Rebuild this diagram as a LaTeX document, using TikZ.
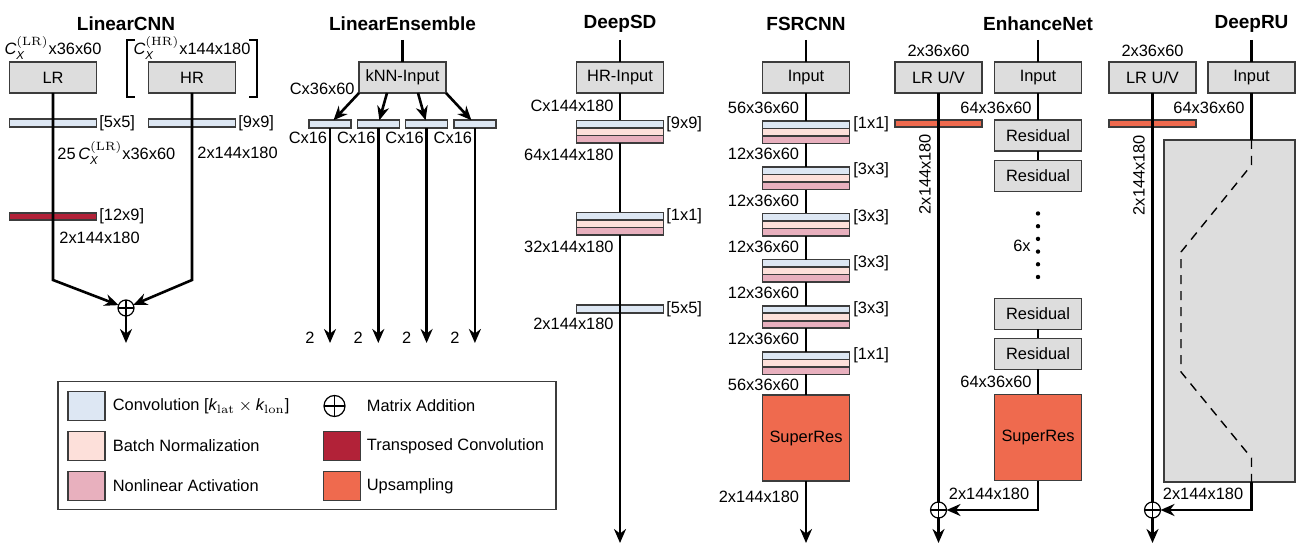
\documentclass[tikz,border=0pt]{standalone}
\usepackage{amsmath}
\usepackage[no-math]{fontspec}
\setmainfont{Liberation Sans}
\usetikzlibrary{arrows.meta,positioning}

\definecolor{boxgray}{RGB}{221,221,221}
\definecolor{boxline}{RGB}{60,60,60}
\definecolor{convblue}{RGB}{221,231,243}
\definecolor{bnpink}{RGB}{253,224,218}
\definecolor{actpink}{RGB}{232,176,190}
\definecolor{tconvred}{RGB}{178,34,56}
\definecolor{upsorange}{RGB}{239,106,78}

\begin{document}
\begin{tikzpicture}[x=0.5pt, y=-0.5pt,
  lbl/.style={font=\fontsize{8.2}{9.8}\selectfont, inner sep=0pt},
  title/.style={font=\fontsize{9.5}{11}\selectfont\bfseries, inner sep=0pt},
  layer/.style={draw=boxline, fill=boxgray, line width=0.8pt, minimum width=43.5pt,
    minimum height=15.5pt, inner sep=0pt, outer sep=0pt, font=\fontsize{8.2}{9.8}\selectfont},
  bar/.style={draw=boxline, line width=0.8pt, minimum width=43.5pt, minimum height=3.75pt,
    inner sep=0pt, outer sep=0pt},
  conv/.style={bar, fill=convblue},
  bnorm/.style={bar, fill=bnpink},
  act/.style={bar, fill=actpink},
  tconv/.style={bar, fill=tconvred},
  upsbar/.style={bar, fill=upsorange},
  swatch/.style={draw=boxline, line width=0.8pt, minimum width=18.5pt, minimum height=14.5pt,
    inner sep=0pt},
  flow/.style={line width=1.3pt},
  arr/.style={flow, -{Stealth[length=7pt, width=6pt]}},
  addop/.style={circle, draw, fill=white, line width=0.6pt, minimum size=8pt, inner sep=0pt,
    outer sep=0pt, path picture={\draw[line width=0.6pt]
      (path picture bounding box.north) -- (path picture bounding box.south)
      (path picture bounding box.west) -- (path picture bounding box.east);}},
  ]
\useasboundingbox (0,0) rectangle (1299,549);

% LinearCNN
\node[title] (lcnn-title) at (126,24) {LinearCNN};
\node[lbl] (lr-dim) at (53,48) {$\textit{C}_{\textit{X}}^{(\mathrm{LR})}$x36x60};
\node[layer] (lr) at (53,77.5) {LR};
\node[lbl] (hr-dim) at (192,48) {$\textit{C}_{\textit{X}}^{(\mathrm{HR})}$x144x180};
\node[layer] (hr) at (192,77.5) {HR};
\draw[line width=1pt] (135,40) -- (127,40) -- (127,97) -- (135,97);
\draw[line width=1pt] (249,40) -- (257,40) -- (257,97) -- (249,97);
\node[conv] (lr-conv) at (53,123) {};
\node[lbl, anchor=west] at (99,123) {[5x5]};
\node[conv] (hr-conv) at (192,123) {};
\node[lbl, anchor=west] at (238,123) {[9x9]};
\node[lbl, anchor=west] at (57,153) {25\,$\textit{C}_{\textit{X}}^{(\mathrm{LR})}$x36x60};
\node[lbl, anchor=west] at (197,153) {2x144x180};
\node[tconv] (lr-tconv) at (53,216.5) {};
\node[lbl, anchor=west] at (99,216.5) {[12x9]};
\node[lbl, anchor=west] at (59,238) {2x144x180};
\node[addop] (lcnn-add) at (126,308) {};
\coordinate (lr-bend) at (53,280);
\coordinate (hr-bend) at (192,280);
\coordinate (lcnn-out) at (126,343);
\draw[arr] (lr) -- (lr-bend) -- (lcnn-add);
\draw[arr] (hr) -- (hr-bend) -- (lcnn-add);
\draw[arr] (lcnn-add) -- (lcnn-out);

% LinearEnsemble
\node[title] (le-title) at (402.5,24) {LinearEnsemble};
\coordinate (le-top) at (402.5,40);
\node[layer] (knn) at (402.5,77.5) {kNN-Input};
\draw[flow] (le-top) -- (knn);
\node[lbl, anchor=east] at (355,89) {Cx36x60};
\foreach \i/\x in {1/330,2/378.3,3/426.6,4/474.9} {
  \node[conv, minimum width=21pt] (le\i) at (\x,124) {};
  \node[lbl, anchor=east] at ({\x-2.5},138) {Cx16};
  \coordinate (le\i-out) at (\x,343);
  \draw[arr] (le\i) -- (le\i-out);
  \node[lbl] at ({\x-20},338) {2};
}
\draw[arr] (knn.south west) -- (le1);
\draw[arr] (knn.-135) -- (le2);
\draw[arr] (knn.-45) -- (le3);
\draw[arr] (knn.south east) -- (le4);

% DeepSD
\node[title] (ds-title) at (620,24) {DeepSD};
\coordinate (ds-top) at (620,40);
\node[layer] (ds-in) at (620,77.5) {HR-Input};
\draw[flow] (ds-top) -- (ds-in);
\node[lbl, anchor=east] at (614,106) {Cx144x180};
\node[conv] (ds1-c) at (620,124.25) {};
\node[bnorm, below=0pt of ds1-c] (ds1-b) {};
\node[act, below=0pt of ds1-b] (ds1-a) {};
\node[lbl, anchor=west] at (666,124) {[9x9]};
\node[lbl, anchor=east] at (614,155) {64x144x180};
\node[conv] (ds2-c) at (620,216.25) {};
\node[bnorm, below=0pt of ds2-c] (ds2-b) {};
\node[act, below=0pt of ds2-b] (ds2-a) {};
\node[lbl, anchor=west] at (666,216) {[1x1]};
\node[lbl, anchor=east] at (614,247) {32x144x180};
\node[conv] (ds3) at (620,309) {};
\node[lbl, anchor=west] at (666,309) {[5x5]};
\node[lbl, anchor=east] at (614,323.5) {2x144x180};
\coordinate (ds-out) at (620,543);
\draw[flow] (ds-in) -- (ds1-c);
\draw[flow] (ds1-a) -- (ds2-c);
\draw[arr] (ds2-a) -- (ds-out);

% FSRCNN
\node[title] (fs-title) at (806,24) {FSRCNN};
\coordinate (fs-top) at (806,40);
\node[layer] (fs-in) at (806,77.5) {Input};
\draw[flow] (fs-top) -- (fs-in);
\foreach \i/\k/\d in {1/1x1/56x36x60, 2/3x3/12x36x60, 3/3x3/12x36x60,
    4/3x3/12x36x60, 5/3x3/12x36x60, 6/1x1/12x36x60} {
  \pgfmathsetmacro\t{121+46.2*(\i-1)}
  \node[conv] (fs\i-c) at (806,\t+3.75) {};
  \node[bnorm, below=0pt of fs\i-c] (fs\i-b) {};
  \node[act, below=0pt of fs\i-b] (fs\i-a) {};
  \node[lbl, anchor=west] at (853,\t+3.5) {[\k]};
  \node[lbl, anchor=east] at (799.5,\t-13) {\d};
}
\draw[flow] (fs-in) -- (fs1-c);
\foreach \i [evaluate=\i as \j using int(\i+1)] in {1,...,5}
  \draw[flow] (fs\i-a) -- (fs\j-c);
\node[lbl, anchor=east] at (799.5,385) {56x36x60};
\node[layer, fill=upsorange, minimum height=43pt] (fs-up) at (806,438) {SuperRes};
\draw[flow] (fs6-a) -- (fs-up);
\node[lbl, anchor=east] at (799.5,497) {2x144x180};
\coordinate (fs-out) at (806,543);
\draw[arr] (fs-up) -- (fs-out);

% EnhanceNet
\node[title] (en-title) at (1038,24) {EnhanceNet};
\node[lbl] at (938.5,51) {2x36x60};
\node[layer] (en-lr) at (938.5,77.5) {LR U/V};
\node[upsbar] (en-ups) at (938.5,123.5) {};
\coordinate (en-top) at (1038,40);
\node[layer] (en-in) at (1038,77.5) {Input};
\draw[flow] (en-top) -- (en-in);
\node[lbl, anchor=east] at (1032,107.5) {64x36x60};
\node[layer] (en-r1) at (1038,135.5) {Residual};
\node[layer] (en-r2) at (1038,176) {Residual};
\node[layer] (en-r3) at (1038,314) {Residual};
\node[layer] (en-r4) at (1038,354) {Residual};
\draw[flow] (en-in) -- (en-r1);
\draw[flow] (en-r1) -- (en-r2);
\draw[flow] (en-r3) -- (en-r4);
\foreach \k in {0,...,5}
  \fill (1038,213.5+12.7*\k) circle (1.1pt);
\node[lbl, anchor=east] at (1031,246) {6x};
\node[lbl, anchor=east] at (1032,382) {64x36x60};
\node[layer, fill=upsorange, minimum height=43pt] (en-up) at (1038,437.5) {SuperRes};
\draw[flow] (en-r4) -- (en-up);
\node[addop] (en-add) at (938.5,510) {};
\coordinate (en-bend) at (1038,510);
\coordinate (en-out) at (938.5,543);
\draw[arr] (en-up) -- (en-bend) -- (en-add);
\node[lbl] at (989,494) {2x144x180};
\draw[flow] (en-lr) -- (en-add);
\draw[arr] (en-add) -- (en-out);
\node[lbl, rotate=90] at (925,174) {2x144x180};

% DeepRU
\node[title] (ru-title) at (1251.5,24) {DeepRU};
\node[lbl] at (1152.5,51) {2x36x60};
\node[layer] (ru-lr) at (1152.5,77.5) {LR U/V};
\node[upsbar] (ru-ups) at (1152.5,123.5) {};
\coordinate (ru-top) at (1251.5,40);
\node[layer] (ru-in) at (1251.5,77.5) {Input};
\draw[flow] (ru-top) -- (ru-in);
\node[lbl, anchor=east] at (1245,107.5) {64x36x60};
\node[layer, minimum width=65.5pt, minimum height=171pt] (ru-net) at (1229.5,311) {};
\draw[flow] (ru-in) -- (ru-in |- ru-net.north);
\draw[line width=0.7pt, dash pattern=on 4.5pt off 3.5pt] (ru-in |- ru-net.north) -- (1251.5,165)
  -- (1181,252) -- (1181,372) -- (1251.5,458) -- (ru-in |- ru-net.south);
\node[addop] (ru-add) at (1152.5,510) {};
\coordinate (ru-bend) at (1251.5,510);
\coordinate (ru-out) at (1152.5,543);
\draw[arr] (ru-in |- ru-net.south) -- (ru-bend) -- (ru-add);
\node[lbl] at (1203,494) {2x144x180};
\draw[flow] (ru-lr) -- (ru-add);
\draw[arr] (ru-add) -- (ru-out);
\node[lbl, rotate=90] at (1139,175) {2x144x180};

% legend
\node[draw=boxline, line width=0.8pt, minimum width=249pt, minimum height=64pt, inner sep=0pt]
  (legend) at (307,445.5) {};
\node[swatch, fill=convblue] (k-conv) at (86.5,406) {};
\node[lbl, anchor=west] at (112.5,406) {Convolution [$\textit{k}_{\mathrm{lat}}\times\textit{k}_{\mathrm{lon}}$]};
\node[swatch, fill=bnpink] (k-bn) at (86.5,446) {};
\node[lbl, anchor=west] at (112.5,446) {Batch Normalization};
\node[swatch, fill=actpink] (k-act) at (86.5,486) {};
\node[lbl, anchor=west] at (112.5,486) {Nonlinear Activation};
\node[addop, minimum size=10.5pt] (k-add) at (334.5,406) {};
\node[lbl, anchor=west] at (366.5,406) {Matrix Addition};
\node[swatch, fill=tconvred] (k-tconv) at (342,446) {};
\node[lbl, anchor=west] at (366.5,446) {Transposed Convolution};
\node[swatch, fill=upsorange] (k-ups) at (342,486) {};
\node[lbl, anchor=west] at (366.5,486) {Upsampling};
\end{tikzpicture}
\end{document}
